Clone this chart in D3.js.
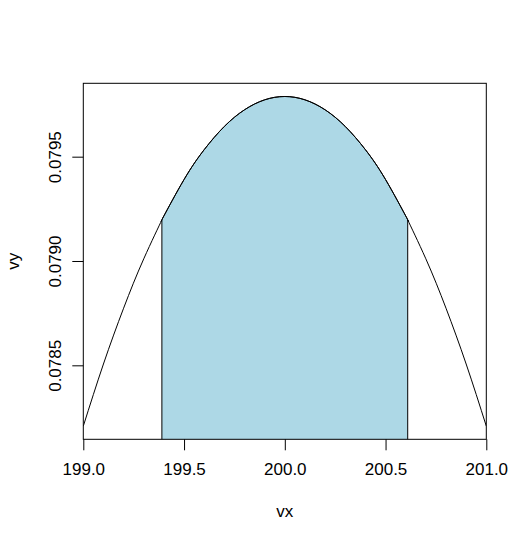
<!DOCTYPE html>
<html>
<head>
<meta charset="utf-8">
<script src="https://cdn.jsdelivr.net/npm/d3@7"></script>
<style>
  html, body { margin: 0; padding: 0; background: #fff; }
  svg { display: block; }
</style>
</head>
<body>
<div id="chart"></div>
<script>
// Density curve (x every 0.1, plus the shading edges)
const vx = [199.0, 199.1, 199.2, 199.3, 199.39, 199.4, 199.5, 199.6, 199.7, 199.8, 199.9,
            200.0, 200.1, 200.2, 200.3, 200.4, 200.5, 200.6, 200.61, 200.7, 200.8, 200.9, 201.0];
const vy = [0.0782086, 0.0785063, 0.0787737, 0.0790104, 0.0791970, 0.0792161, 0.0793905,
            0.0795336, 0.0796450, 0.0797247, 0.0797725, 0.0797885, 0.0797725, 0.0797247,
            0.0796450, 0.0795336, 0.0793905, 0.0792161, 0.0791970, 0.0790104, 0.0787737,
            0.0785063, 0.0782086];

// Shaded interval
const shadeFrom = 199.39;
const shadeTo = 200.61;

const xTicks = [199.0, 199.5, 200.0, 200.5, 201.0];
const yTicks = [0.0785, 0.0790, 0.0795];

const xTitle = 'vx';
const yTitle = 'vy';

const FILL = '#ADD8E6';
const FONT = "'Liberation Sans', Arial, sans-serif";

const totalWidth = 529, totalHeight = 544;
const margin = { top: 83.3, right: 42.7, bottom: 104.7, left: 83.3 };
const width = totalWidth - margin.left - margin.right;
const height = totalHeight - margin.top - margin.bottom;

const points = vx.map((x, i) => ({ x, y: vy[i] }));

const svg = d3.select('#chart')
  .append('svg')
  .attr('width', totalWidth)
  .attr('height', totalHeight);

const g = svg.append('g')
  .attr('transform', `translate(${margin.left},${margin.top})`);

// R-style: y range padded 4%, x exact
const yMin = d3.min(vy), yMax = d3.max(vy);
const pad = (yMax - yMin) * 0.04;

const x = d3.scaleLinear()
  .domain(d3.extent(vx))
  .range([0, width]);

const y = d3.scaleLinear()
  .domain([yMin - pad, yMax + pad])
  .range([height, 0]);

g.append('clipPath')
  .attr('id', 'plot-clip')
  .append('rect')
  .attr('width', width)
  .attr('height', height);

// Shaded polygon down to zero, clipped by the plot box
const shaded = points.filter(d => d.x >= shadeFrom && d.x <= shadeTo);
const area = d3.area()
  .x(d => x(d.x))
  .y0(height + 50)
  .y1(d => y(d.y))
  .curve(d3.curveNatural);

g.append('path')
  .datum(shaded)
  .attr('clip-path', 'url(#plot-clip)')
  .attr('fill', FILL)
  .attr('stroke', '#000')
  .attr('stroke-width', 1)
  .attr('d', area);

// Curve
const line = d3.line()
  .x(d => x(d.x))
  .y(d => y(d.y))
  .curve(d3.curveNatural);

g.append('path')
  .datum(points)
  .attr('clip-path', 'url(#plot-clip)')
  .attr('fill', 'none')
  .attr('stroke', '#000')
  .attr('stroke-width', 1)
  .attr('d', line);

// Box
g.append('rect')
  .attr('width', width)
  .attr('height', height)
  .attr('fill', 'none')
  .attr('stroke', '#000')
  .attr('stroke-width', 1);

// Axes
const xAxis = g.append('g')
  .attr('transform', `translate(0,${height})`)
  .call(d3.axisBottom(x)
    .tickValues(xTicks)
    .tickSize(11)
    .tickSizeOuter(0)
    .tickPadding(13)
    .tickFormat(d3.format('.1f')));

const yAxis = g.append('g')
  .call(d3.axisLeft(y)
    .tickValues(yTicks)
    .tickSize(11)
    .tickSizeOuter(0)
    .tickFormat(d3.format('.4f')));

[xAxis, yAxis].forEach(ax => {
  ax.select('.domain').remove();
  ax.selectAll('line').attr('stroke', '#000');
  ax.selectAll('text')
    .style('font-family', FONT)
    .style('font-size', '17px')
    .attr('fill', '#000');
});

yAxis.selectAll('text')
  .attr('transform', 'rotate(-90)')
  .attr('x', 0)
  .attr('y', -22.3)
  .attr('dy', 0)
  .attr('text-anchor', 'middle');

// Axis titles
svg.append('text')
  .attr('x', margin.left + width / 2)
  .attr('y', 517)
  .attr('text-anchor', 'middle')
  .style('font-family', FONT)
  .style('font-size', '17px')
  .text(xTitle);

svg.append('text')
  .attr('transform', `translate(19,${margin.top + height / 2}) rotate(-90)`)
  .attr('text-anchor', 'middle')
  .style('font-family', FONT)
  .style('font-size', '17px')
  .text(yTitle);
</script>
</body>
</html>
